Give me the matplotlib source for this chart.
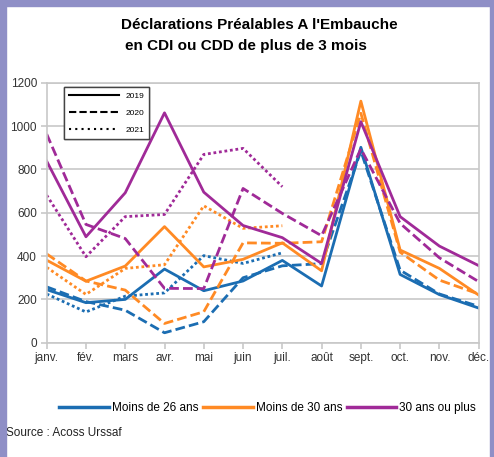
import numpy as np
import matplotlib.pyplot as plt
from matplotlib.lines import Line2D
from matplotlib.patches import Rectangle

plt.rcParams['font.family'] = ['Liberation Sans', 'DejaVu Sans']

months = ['janv.', 'fév.', 'mars', 'avr.', 'mai', 'juin', 'juil.',
          'août', 'sept.', 'oct.', 'nov.', 'déc.']

# Moins de 26 ans
m26_2019 = [245, 185, 200, 340, 240, 285, 380, 262, 902, 315, 222, 160]
m26_2020 = [258, 190, 150, 46, 97, 300, 355, 365, 885, 335, 225, 168]
m26_2021 = [225, 142, 215, 230, 402, 366, 415]

# Moins de 30 ans
m30_2019 = [381, 284, 354, 536, 350, 385, 461, 332, 1115, 428, 343, 220]
m30_2020 = [410, 285, 243, 89, 143, 461, 459, 466, 1059, 418, 289, 225]
m30_2021 = [348, 223, 343, 360, 632, 528, 540]

# 30 ans ou plus
p30_2019 = [838, 489, 692, 1061, 695, 541, 485, 366, 1020, 582, 446, 356]
p30_2020 = [963, 546, 481, 251, 250, 712, 597, 494, 895, 551, 392, 282]
p30_2021 = [681, 397, 582, 592, 869, 897, 720]

blue = '#1b6db2'
orange = '#ff8a24'
purple = '#a02a98'

fig = plt.figure(figsize=(4.94, 4.57), dpi=100)
ax = fig.add_axes([0.0945, 0.25, 0.8745, 0.569])

x = np.arange(12)
lw = 2.0
groups = [(m26_2019, m26_2020, m26_2021, blue),
          (m30_2019, m30_2020, m30_2021, orange),
          (p30_2019, p30_2020, p30_2021, purple)]
for s19, s20, s21, c in groups:
    ax.plot(x, s19, color=c, lw=lw, ls='-')
    ax.plot(x, s20, color=c, lw=lw, ls=(0, (3.5, 1.5)))
    ax.plot(x[:len(s21)], s21, color=c, lw=lw, ls=(0, (1, 1)))

ax.set_xlim(0, 11)
ax.set_ylim(0, 1200)
ax.set_yticks(range(0, 1201, 200))
ax.set_xticks(x)
ax.set_xticklabels(months)
ax.grid(axis='y', color='#c8c8c8', lw=1.2)
ax.set_axisbelow(True)
for sp in ax.spines.values():
    sp.set_color('#c8c8c8')
    sp.set_linewidth(1.2)
ax.tick_params(colors='#c8c8c8', labelcolor='#333333', labelsize=8.5,
               length=4, width=1.2, pad=3)

# year legend inside the plot
yl = [Line2D([], [], color='black', lw=1.5, ls='-'),
      Line2D([], [], color='black', lw=1.5, ls=(0, (3.5, 1.5))),
      Line2D([], [], color='black', lw=1.5, ls=(0, (1, 2)))]
leg1 = ax.legend(yl, ['2019', '2020', '2021'], loc='upper left',
                 bbox_to_anchor=(0.03, 1.0), handlelength=6, fontsize=6,
                 fancybox=False, edgecolor='#444444', framealpha=1,
                 borderpad=0.6, labelspacing=1.1)
leg1.get_frame().set_linewidth(1.0)
ax.add_artist(leg1)

# series legend below
sl = [Line2D([], [], color=blue, lw=2.5),
      Line2D([], [], color=orange, lw=2.5),
      Line2D([], [], color=purple, lw=2.5)]
fig.legend(sl, ['Moins de 26 ans', 'Moins de 30 ans', '30 ans ou plus'],
           loc='center', bbox_to_anchor=(0.542, 0.108), ncol=3, frameon=False,
           fontsize=8.5, handlelength=4.2, handletextpad=0.25,
           columnspacing=0.4)

fig.text(0.525, 0.945, "Déclarations Préalables A l'Embauche",
         ha='center', va='center', fontsize=11, fontweight='bold')
fig.text(0.497, 0.9, "en CDI ou CDD de plus de 3 mois",
         ha='center', va='center', fontsize=11, fontweight='bold')
fig.text(0.012, 0.052, "Source : Acoss Urssaf", fontsize=8.5, color='#222222',
         va='center')

# purple frame
frame = '#8f8fc6'
fig.patches.append(Rectangle((0, 0), 0.013, 1, transform=fig.transFigure,
                             color=frame, zorder=10))
fig.patches.append(Rectangle((0, 0.987), 1, 0.013, transform=fig.transFigure,
                             color=frame, zorder=10))
fig.patches.append(Rectangle((0.992, 0), 0.008, 1, transform=fig.transFigure,
                             color=frame, zorder=10))

plt.savefig('out.png', dpi=100)
